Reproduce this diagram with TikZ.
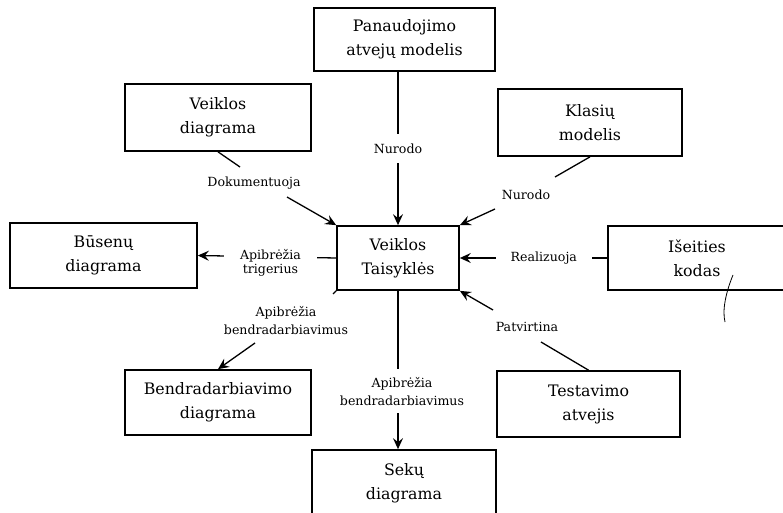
\documentclass[tikz,border=0pt]{standalone}
\usepackage{fontspec}
\setmainfont{DejaVu Serif}
\usetikzlibrary{arrows.meta}

\begin{document}
\begin{tikzpicture}[x=1pt,y=-1pt,
  box/.style={draw, line width=1.7pt, align=center, inner sep=0pt,
    font=\fontsize{15.8}{24}\selectfont},
  lbl/.style={align=center, inner sep=1pt, font=\fontsize{12.6}{18}\selectfont},
  gap/.style={lbl, fill=white},
  link/.style={line width=1.3pt},
  arr/.style={link, -{Stealth[length=11pt,width=10pt,inset=4pt]}}
]
\useasboundingbox (0,0) rectangle (783,513);
\fill[white] (0,0) rectangle (783,513);

% boxes
\node[box, minimum width=181pt, minimum height=63pt] (use) at (404.5,39.5) {Panaudojimo\\atvejų modelis};
\node[box, minimum width=186pt, minimum height=67pt] (act) at (218,117.5) {Veiklos\\diagrama};
\node[box, minimum width=184pt, minimum height=67pt] (cls) at (590,122.5) {Klasių\\modelis};
\node[box, minimum width=187pt, minimum height=65pt] (st) at (103.5,255.5) {Būsenų\\diagrama};
\node[box, minimum width=122pt, minimum height=64pt] (br) at (398,258) {Veiklos\\Taisyklės};
\node[box, minimum width=178pt, minimum height=64pt] (src) at (697,258) {Išeities\\kodas};
\node[box, minimum width=186pt, minimum height=65pt] (col) at (218,402.5) {Bendradarbiavimo\\diagrama};
\node[box, minimum width=183pt, minimum height=66pt] (tst) at (588.5,404) {Testavimo\\atvejis};
\node[box, minimum width=184pt, minimum height=66pt] (seq) at (404,483) {Sekų\\diagrama};

% straight connectors with the label breaking the line
\draw[arr] (use.south -| br.north) -- node[gap, pos=0.5, inner ysep=10pt] {Nurodo} (br.north);
\draw[arr] (br.south) -- node[gap, pos=0.634, inner ysep=8pt, xshift=4pt] {Apibrėžia\\bendradarbiavimus} (br.south |- seq.north);
\draw[arr] (br.west) -- node[gap, pos=0.475, yshift=-6pt, inner xsep=16pt,
  font=\fontsize{12.6}{14.5}\selectfont] {Apibrėžia\\trigerius} (st.east);
\draw[arr] (src.west) -- node[gap, pos=0.43, inner xsep=15pt] {Realizuoja} (src.west -| br.east);

% diagonal connectors, label between the two pieces
\coordinate (d1) at (240,167);
\coordinate (d2) at (287,197);
\draw[link] (act.south) -- (d1);
\node[lbl] (ldoc) at (254,183) {Dokumentuoja};
\draw[arr] (d2) -- (br.north west);

\coordinate (c1) at (555,177);
\coordinate (c2) at (495,209);
\draw[link] (cls.south) -- (c1);
\node[lbl] (lnur) at (526,195) {Nurodo};
\draw[arr] (c2) -- (br.north east);

\coordinate (t1) at (541,342);
\coordinate (t2) at (493,310);
\draw[link] (tst.north) -- (t1);
\node[lbl] (lpat) at (527,327) {Patvirtina};
\draw[arr] (t2) -- (br.south east);

\coordinate (b1) at (333,294);
\coordinate (b2) at (255,343);
\draw[link] (br.south west) -- (b1);
\node[lbl] (lcol) at (286,321) {Apibrėžia\\bendradarbiavimus};
\draw[arr] (b2) -- (col.north);

% pen stroke across the source-code box
\draw[line width=0.8pt] (733,275) .. controls (726,292) and (722,310) .. (725,322);
\end{tikzpicture}
\end{document}
